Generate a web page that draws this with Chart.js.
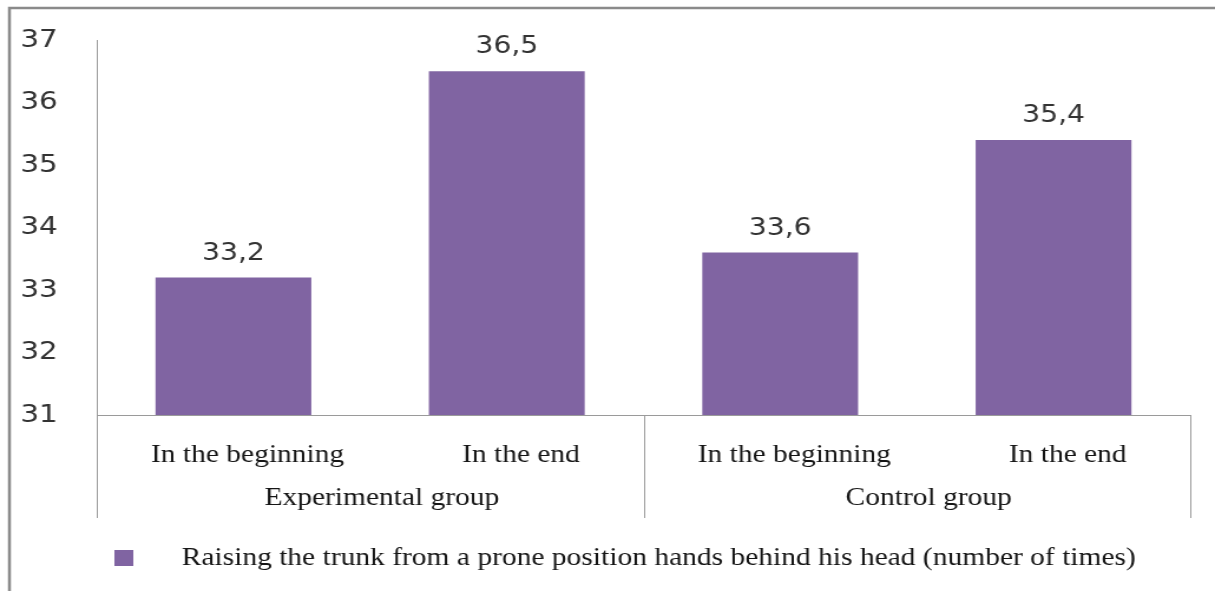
<!DOCTYPE html>
<html>
<head>
<meta charset="utf-8">
<script src="https://cdn.jsdelivr.net/npm/chart.js@4.4.1/dist/chart.umd.min.js"></script>
<style>
  html, body { margin: 0; padding: 0; background: #fff; overflow: hidden; }
  #chart { display: block; }
</style>
</head>
<body>
<!-- the source picture is stretched sideways, so the canvas is drawn narrow and widened by an inline style -->
<canvas id="chart" width="1030" height="591" style="width:1215px;height:591px"></canvas>
<script>
// --- Data ---
const phases = ['In the beginning', 'In the end', 'In the beginning', 'In the end'];
const groups = ['Experimental group', 'Control group'];
const values = [33.2, 36.5, 33.6, 35.4];
const yTicks = [31, 32, 33, 34, 35, 36, 37];
const seriesName = 'Raising the trunk from a prone position hands behind his head (number of times)';

// --- Styles ---
const BAR_COLOR = '#8064A2';
const LINE_COLOR = '#9a9a9a';
const FRAME_COLOR = '#8a8a8a';
const TEXT_COLOR = '#151515';
const SERIF = '"Liberation Serif", "Times New Roman", serif';
const SANS = '"DejaVu Sans", Verdana, sans-serif';

const fmt = v => v.toFixed(1).replace('.', ',');

// frame, two level axis labels, value labels and legend
const decorations = {
    id: 'decorations',
    afterDraw(chart) {
        const ctx = chart.ctx;
        const x = chart.scales.x;
        const area = chart.chartArea;
        const axisBottom = 518;

        ctx.save();

        // outer frame (top and left only)
        ctx.strokeStyle = FRAME_COLOR;
        ctx.lineWidth = 2.5;
        ctx.beginPath();
        ctx.moveTo(8, 591);
        ctx.lineTo(8, 8);
        ctx.lineTo(chart.width, 8);
        ctx.stroke();

        // group dividers below the axis
        const mid = (x.getPixelForValue(1) + x.getPixelForValue(2)) / 2;
        ctx.strokeStyle = LINE_COLOR;
        ctx.lineWidth = 1;
        ctx.beginPath();
        [x.left, mid, x.right].forEach(px => {
            ctx.moveTo(Math.round(px) + 0.5, area.bottom);
            ctx.lineTo(Math.round(px) + 0.5, axisBottom);
        });
        ctx.stroke();

        // category labels
        ctx.fillStyle = TEXT_COLOR;
        ctx.textAlign = 'center';
        ctx.textBaseline = 'alphabetic';
        ctx.font = `25px ${SERIF}`;
        chart.data.labels.forEach((label, i) => {
            ctx.fillText(label, x.getPixelForValue(i) + 12, 462);
        });

        // group labels
        groups.forEach((g, gi) => {
            const cx = (x.getPixelForValue(gi * 2) + x.getPixelForValue(gi * 2 + 1)) / 2;
            ctx.fillText(g, cx + 10, 505);
        });

        // value labels above the bars
        ctx.font = `24px ${SANS}`;
        ctx.fillStyle = '#333333';
        const meta = chart.getDatasetMeta(0);
        meta.data.forEach((bar, i) => {
            ctx.fillText(fmt(chart.data.datasets[0].data[i]), bar.x, bar.y - 18);
        });

        // legend
        ctx.fillStyle = BAR_COLOR;
        ctx.fillRect(97, 550, 16, 16);
        ctx.fillStyle = TEXT_COLOR;
        ctx.textAlign = 'left';
        ctx.font = `25px ${SERIF}`;
        ctx.fillText(chart.data.datasets[0].label, 154, 565);

        ctx.restore();
    }
};

new Chart(document.getElementById('chart'), {
    type: 'bar',
    data: {
        labels: phases,
        datasets: [{
            label: seriesName,
            data: values,
            backgroundColor: BAR_COLOR,
            borderWidth: 0,
            categoryPercentage: 1,
            barPercentage: 0.57
        }]
    },
    options: {
        responsive: false,
        animation: false,
        devicePixelRatio: 1,
        layout: { padding: { top: 40, right: 21, bottom: 176, left: 0 } },
        plugins: {
            legend: { display: false },
            tooltip: { enabled: false }
        },
        scales: {
            x: {
                ticks: { display: false },
                grid: { display: false },
                border: { display: true, color: LINE_COLOR, width: 1 },
                afterFit: scale => { scale.height = 0; }
            },
            y: {
                min: 31,
                max: 37,
                afterBuildTicks: scale => { scale.ticks = yTicks.map(v => ({ value: v })); },
                ticks: { color: '#333333', font: { family: SANS, size: 25 }, padding: 25 },
                grid: { display: false },
                border: { display: true, color: LINE_COLOR, width: 1 },
                afterFit: scale => { scale.width = 82; }
            }
        }
    },
    plugins: [decorations]
});
</script>
</body>
</html>
